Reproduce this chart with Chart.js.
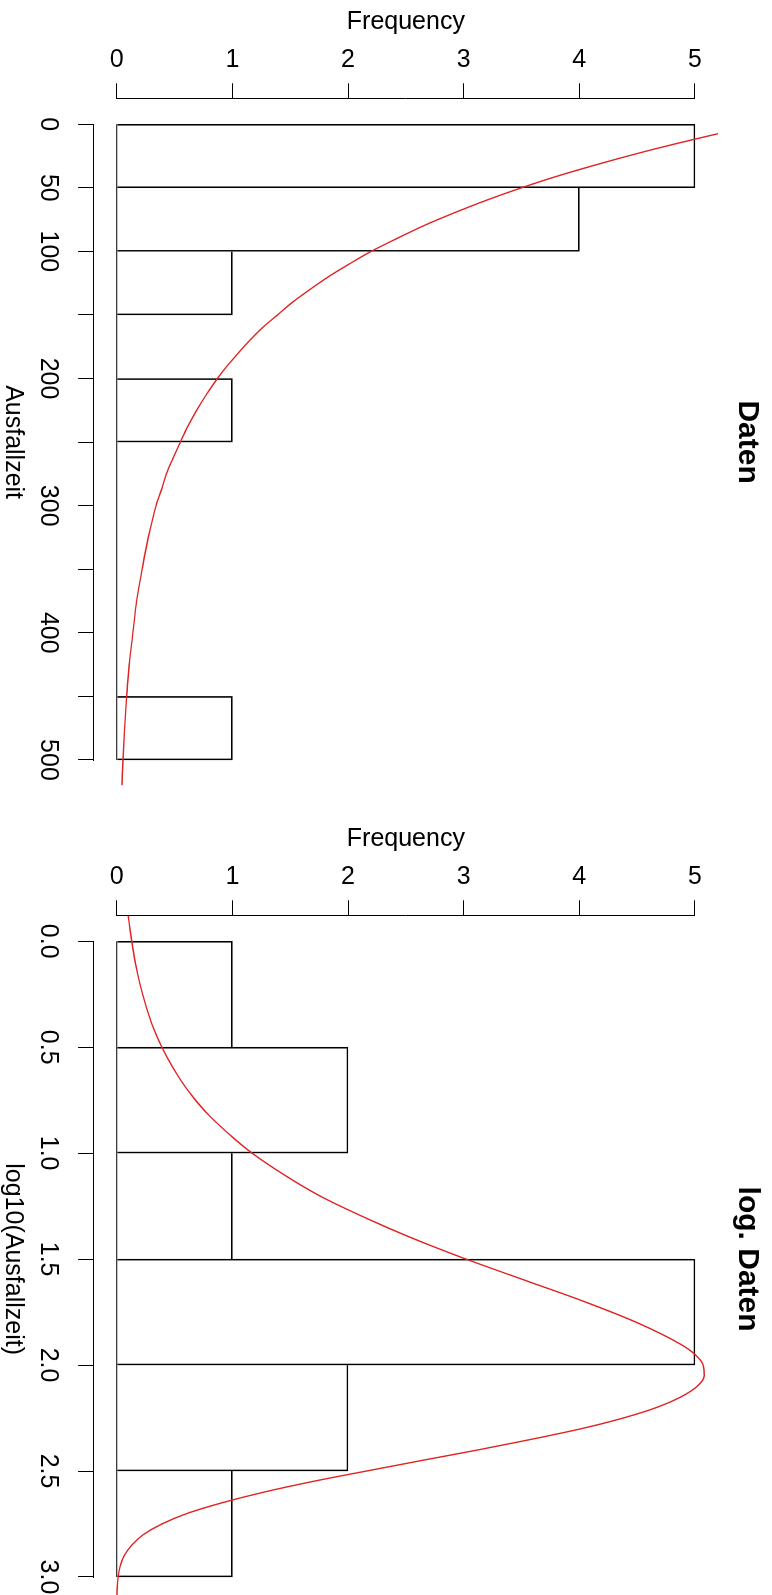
<!DOCTYPE html>
<html>
<head>
<meta charset="utf-8">
<title>Ausfallzeit</title>
<script src="https://cdn.jsdelivr.net/npm/chart.js@4.4.1/dist/chart.umd.min.js"></script>
<style>
  html, body { margin: 0; padding: 0; background: #fff; overflow: hidden; }
  #page { position: relative; width: 772px; height: 1595px; overflow: hidden; }
  /* the R figure is landscape; it is turned a quarter clockwise onto the page */
  #turn { position: absolute; left: 0; top: 0; width: 1635px; height: 772px;
          transform-origin: 0 0; transform: translate(772px, 0) rotate(90deg); }
  .panel { position: absolute; top: 0; width: 818px; height: 772px; }
</style>
</head>
<body>
<div id="page">
  <div id="turn">
    <div class="panel" style="left:0"><canvas id="rawChart" width="818" height="772"></canvas></div>
    <div class="panel" style="left:817px"><canvas id="logChart" width="818" height="772"></canvas></div>
  </div>
</div>
<script>
// panel 1: raw failure times
const rawBreaks = [0, 50, 100, 150, 200, 250, 300, 350, 400, 450, 500];
const rawCounts = [5, 4, 1, 0, 1, 0, 0, 0, 0, 1];
const rawTickLabels = [0, 50, 100, 200, 300, 400, 500];
const rawCurveX = [-20, -10, 0, 10, 20, 30, 40, 50, 60, 70, 80, 90, 100, 110, 120, 130, 140, 150, 160, 170, 180, 190, 200, 212.5, 225, 237.5, 250, 262.5, 275, 287.5, 300, 325, 350, 375, 400, 425, 450, 475, 500, 520];
const rawCurveY = [6.70, 6.11, 5.57, 5.08, 4.63, 4.22, 3.84, 3.50, 3.19, 2.91, 2.65, 2.42, 2.20, 2.01, 1.83, 1.67, 1.52, 1.39, 1.26, 1.15, 1.05, 0.956, 0.87, 0.776, 0.69, 0.615, 0.55, 0.488, 0.43, 0.387, 0.34, 0.273, 0.22, 0.172, 0.14, 0.108, 0.086, 0.068, 0.054, 0.045];

// panel 2: log10 of the failure times
const logBreaks = [0, 0.5, 1, 1.5, 2, 2.5, 3];
const logCounts = [1, 2, 1, 5, 2, 1];
const logCurveX = [-0.12, 0, 0.1, 0.2, 0.3, 0.4, 0.5, 0.6, 0.7, 0.8, 0.9, 1.0, 1.1, 1.2, 1.3, 1.4, 1.5, 1.6, 1.7, 1.8, 1.9, 1.95, 2.0, 2.05, 2.1, 2.15, 2.2, 2.25, 2.3, 2.35, 2.4, 2.45, 2.5, 2.55, 2.6, 2.65, 2.7, 2.75, 2.8, 2.85, 2.9, 2.95, 3.0, 3.05, 3.12];
const logCurveY = [0.10, 0.13, 0.16, 0.20, 0.25, 0.31, 0.39, 0.49, 0.61, 0.76, 0.95, 1.17, 1.44, 1.75, 2.13, 2.55, 3.02, 3.53, 4.04, 4.50, 4.87, 5.00, 5.07, 5.08, 5.02, 4.88, 4.67, 4.38, 4.02, 3.59, 3.13, 2.64, 2.16, 1.69, 1.27, 0.91, 0.61, 0.39, 0.23, 0.13, 0.064, 0.029, 0.012, 0.004, 0.001];

Chart.defaults.font.family = '"Liberation Sans", Arial, Helvetica, sans-serif';
Chart.defaults.font.size = 25;
Chart.defaults.color = "#000";

// R draws the axis line only from the first to the last tick
const axisLines = {
  id: "axisLines",
  afterDraw(chart) {
    const {ctx, chartArea, scales: {x, y}} = chart;
    const xt = x.ticks;
    const yt = y.ticks;
    ctx.save();
    ctx.strokeStyle = "#000";
    ctx.lineWidth = 1;
    ctx.beginPath();
    const by = Math.round(chartArea.bottom) + 0.5;
    ctx.moveTo(Math.round(x.getPixelForValue(xt[0].value)), by);
    ctx.lineTo(Math.round(x.getPixelForValue(xt[xt.length - 1].value)) + 1, by);
    const lx = Math.round(chartArea.left) - 0.5;
    ctx.moveTo(lx, Math.round(y.getPixelForValue(yt[0].value)) + 1);
    ctx.lineTo(lx, Math.round(y.getPixelForValue(yt[yt.length - 1].value)));
    ctx.stroke();
    ctx.restore();
  }
};

function histChart(id, cfg) {
  const {breaks, counts, curveX, curveY, title, xTitle, xMin, xMax, step, label} = cfg;
  const bars = counts.map((c, i) => ({x: (breaks[i] + breaks[i + 1]) / 2, y: c}));
  const base = [{x: breaks[0], y: 0}, {x: breaks[breaks.length - 1], y: 0}];
  const curve = curveX.map((x, i) => ({x, y: curveY[i]}));
  const grid = {offset: false, drawOnChartArea: false, drawTicks: true, tickLength: 15.5, color: "#000", lineWidth: 1};

  // a shared edge between two bars is drawn once, by the taller bar
  const edges = ctx => {
    const i = ctx.dataIndex;
    const c = counts[i];
    const prev = i > 0 ? counts[i - 1] : 0;
    const next = i < counts.length - 1 ? counts[i + 1] : 0;
    return {top: 1, bottom: 0, left: prev <= c ? 1 : 0, right: next < c ? 1 : 0};
  };

  return new Chart(document.getElementById(id), {
    type: "bar",
    data: {
      datasets: [
        {type: "bar", data: bars, backgroundColor: "rgba(0,0,0,0)", borderColor: "#000", borderWidth: edges,
          borderSkipped: "start", barPercentage: 1, categoryPercentage: 1, order: 3},
        {type: "line", data: base, borderColor: "#000", borderWidth: 1, pointRadius: 0, order: 2},
        {type: "line", data: curve, borderColor: "#e02424", borderWidth: 1.4, pointRadius: 0,
          cubicInterpolationMode: "monotone", order: 1}
      ]
    },
    options: {
      responsive: false,
      animation: false,
      events: [],
      layout: {padding: {top: 0, left: 0, right: 32.6, bottom: 0}},
      plugins: {
        legend: {display: false},
        tooltip: {enabled: false},
        title: {display: true, text: title, fullSize: false, color: "#000",
          font: {size: 30, weight: "bold", lineHeight: 1.2}, padding: {top: 7, bottom: 10.9}}
      },
      scales: {
        x: {
          type: "linear", min: xMin, max: xMax, offset: false,
          afterFit: s => { s.height = 93.6; },
          grid, border: {display: false},
          ticks: {stepSize: step, includeBounds: false, autoSkip: false, maxRotation: 0, minRotation: 0,
            padding: 15.1, callback: label},
          title: {display: true, text: xTitle, font: {size: 25, lineHeight: 1}, padding: {top: 0, bottom: 0}}
        },
        y: {
          type: "linear", min: -0.2, max: 5.2,
          afterFit: s => { s.width = 98.8; },
          grid, border: {display: false},
          ticks: {stepSize: 1, includeBounds: false, autoSkip: false, minRotation: 90, maxRotation: 90,
            crossAlign: "center", padding: 16.3},
          title: {display: true, text: "Frequency", font: {size: 25, lineHeight: 1}, padding: {top: 9.5, bottom: 0}}
        }
      }
    },
    plugins: [axisLines]
  });
}

histChart("rawChart", {
  breaks: rawBreaks, counts: rawCounts, curveX: rawCurveX, curveY: rawCurveY,
  title: "Daten", xTitle: "Ausfallzeit", xMin: -20, xMax: 520, step: 50,
  label: v => rawTickLabels.includes(v) ? String(v) : ""
});

histChart("logChart", {
  breaks: logBreaks, counts: logCounts, curveX: logCurveX, curveY: logCurveY,
  title: "log. Daten", xTitle: "log10(Ausfallzeit)", xMin: -0.12, xMax: 3.12, step: 0.5,
  label: v => Number(v).toFixed(1)
});
</script>
</body>
</html>
